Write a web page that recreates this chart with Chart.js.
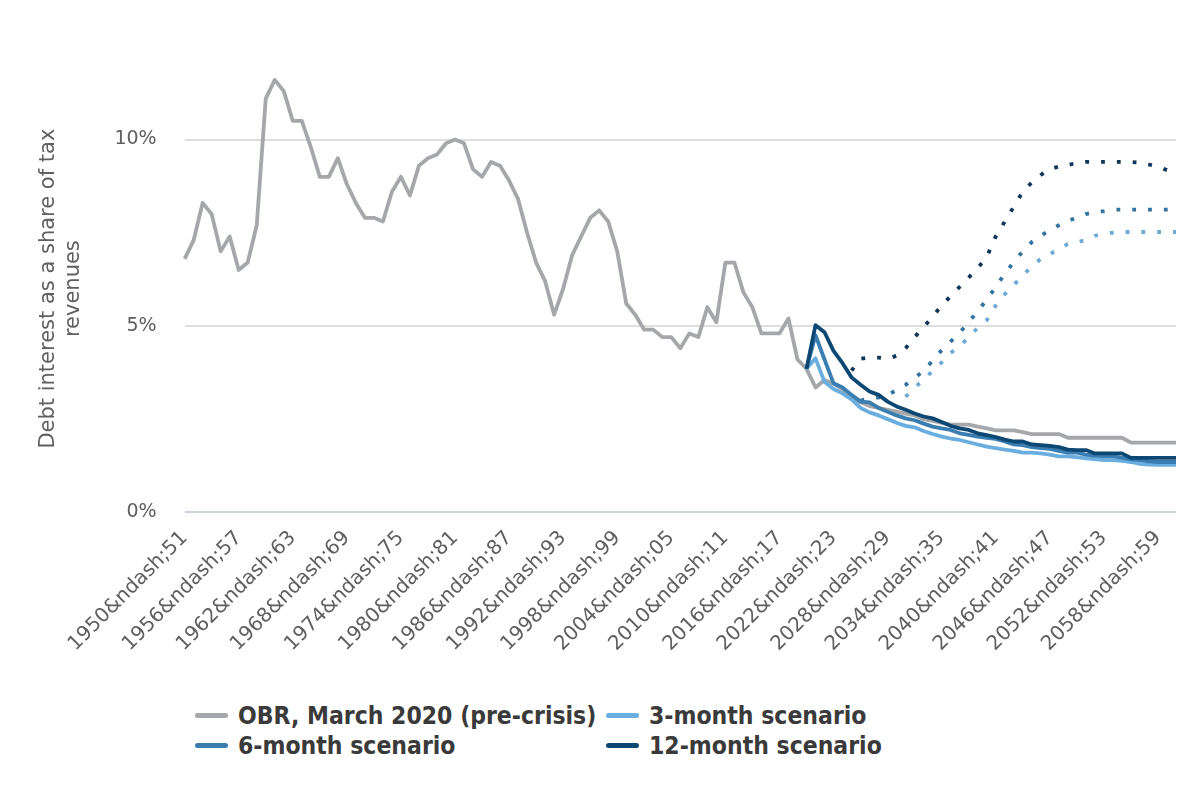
<!DOCTYPE html>
<html>
<head>
<meta charset="utf-8">
<script src="https://cdn.jsdelivr.net/npm/chart.js@4.4.1/dist/chart.umd.min.js"></script>
<style>
  body { margin: 0; background: #ffffff; }
  #wrap { position: relative; width: 1200px; height: 800px; }
  #box { position: absolute; left: 0; top: 0; width: 1200px; height: 690px; }
  #legend {
    position: absolute; left: 195px; top: 700px;
    display: grid; grid-template-columns: 411px auto; row-gap: 0;
    font-family: "DejaVu Sans Condensed", "DejaVu Sans", sans-serif;
    font-weight: bold; font-size: 24.5px; color: #3a3a3a;
  }
  #legend .item { display: flex; align-items: center; height: 30px; }
  #legend .swatch { width: 33px; height: 5px; border-radius: 3px; margin-right: 10px; }
</style>
</head>
<body>
<div id="wrap">
  <div id="box"><canvas id="myChart"></canvas></div>
  <div id="legend"></div>
</div>
<script>
// fiscal years 1950-51 .. 2060-61 (labels as they appear in the source)
const categories = [
  '1950&ndash;51','1951&ndash;52','1952&ndash;53','1953&ndash;54','1954&ndash;55','1955&ndash;56',
  '1956&ndash;57','1957&ndash;58','1958&ndash;59','1959&ndash;60','1960&ndash;61','1961&ndash;62',
  '1962&ndash;63','1963&ndash;64','1964&ndash;65','1965&ndash;66','1966&ndash;67','1967&ndash;68',
  '1968&ndash;69','1969&ndash;70','1970&ndash;71','1971&ndash;72','1972&ndash;73','1973&ndash;74',
  '1974&ndash;75','1975&ndash;76','1976&ndash;77','1977&ndash;78','1978&ndash;79','1979&ndash;80',
  '1980&ndash;81','1981&ndash;82','1982&ndash;83','1983&ndash;84','1984&ndash;85','1985&ndash;86',
  '1986&ndash;87','1987&ndash;88','1988&ndash;89','1989&ndash;90','1990&ndash;91','1991&ndash;92',
  '1992&ndash;93','1993&ndash;94','1994&ndash;95','1995&ndash;96','1996&ndash;97','1997&ndash;98',
  '1998&ndash;99','1999&ndash;00','2000&ndash;01','2001&ndash;02','2002&ndash;03','2003&ndash;04',
  '2004&ndash;05','2005&ndash;06','2006&ndash;07','2007&ndash;08','2008&ndash;09','2009&ndash;10',
  '2010&ndash;11','2011&ndash;12','2012&ndash;13','2013&ndash;14','2014&ndash;15','2015&ndash;16',
  '2016&ndash;17','2017&ndash;18','2018&ndash;19','2019&ndash;20','2020&ndash;21','2021&ndash;22',
  '2022&ndash;23','2023&ndash;24','2024&ndash;25','2025&ndash;26','2026&ndash;27','2027&ndash;28',
  '2028&ndash;29','2029&ndash;30','2030&ndash;31','2031&ndash;32','2032&ndash;33','2033&ndash;34',
  '2034&ndash;35','2035&ndash;36','2036&ndash;37','2037&ndash;38','2038&ndash;39','2039&ndash;40',
  '2040&ndash;41','2041&ndash;42','2042&ndash;43','2043&ndash;44','2044&ndash;45','2045&ndash;46',
  '2046&ndash;47','2047&ndash;48','2048&ndash;49','2049&ndash;50','2050&ndash;51','2051&ndash;52',
  '2052&ndash;53','2053&ndash;54','2054&ndash;55','2055&ndash;56','2056&ndash;57','2057&ndash;58',
  '2058&ndash;59','2059&ndash;60','2060&ndash;61'
]

// OBR, March 2020 (pre-crisis), every year from 1950-51
const obr = [
  6.8, 7.3, 8.3, 8.0, 7.0, 7.4, 6.5, 6.7, 7.7, 11.1,
  11.6, 11.3, 10.5, 10.5, 9.8, 9.0, 9.0, 9.5, 8.8, 8.3,
  7.9, 7.9, 7.8, 8.6, 9.0, 8.5, 9.3, 9.5, 9.6, 9.9,
  10.0, 9.9, 9.2, 9.0, 9.4, 9.3, 8.9, 8.4, 7.5, 6.7,
  6.2, 5.3, 6.0, 6.9, 7.4, 7.9, 8.1, 7.8, 7.0, 5.6,
  5.3, 4.9, 4.9, 4.7, 4.7, 4.4, 4.8, 4.7, 5.5, 5.1,
  6.7, 6.7, 5.9, 5.5, 4.8, 4.8, 4.8, 5.2, 4.1, 3.85,
  3.35, 3.55, 3.45, 3.3, 3.1, 2.95, 2.85, 2.8, 2.75, 2.7,
  2.65, 2.6, 2.5, 2.45, 2.4, 2.35, 2.35, 2.35, 2.3, 2.25,
  2.2, 2.2, 2.2, 2.15, 2.1, 2.1, 2.1, 2.1, 2.0, 2.0,
  2.0, 2.0, 2.0, 2.0, 2.0, 1.87, 1.87, 1.87, 1.87, 1.87, 1.87
]

// scenarios, starting 2019-20
const scenarioStart = '2019&ndash;20'
const month3 = [
  3.85, 4.13, 3.5, 3.31, 3.19, 3.03, 2.8, 2.68, 2.6, 2.5,
  2.4, 2.32, 2.28, 2.18, 2.1, 2.03, 1.98, 1.94, 1.88, 1.82,
  1.76, 1.72, 1.68, 1.65, 1.6, 1.6, 1.58, 1.55, 1.5, 1.5,
  1.48, 1.45, 1.43, 1.4, 1.4, 1.38, 1.35, 1.3, 1.28, 1.27,
  1.27, 1.27
]
const month6 = [
  3.85, 4.75, 4.1, 3.46, 3.35, 3.15, 2.97, 2.95, 2.8, 2.7,
  2.6, 2.52, 2.47, 2.38, 2.3, 2.25, 2.21, 2.12, 2.08, 2.03,
  2.0, 1.97, 1.9, 1.82, 1.8, 1.75, 1.72, 1.7, 1.65, 1.6,
  1.6, 1.55, 1.52, 1.5, 1.5, 1.47, 1.42, 1.4, 1.37, 1.35,
  1.35, 1.35
]
const month12 = [
  3.85, 5.02, 4.83, 4.33, 4.0, 3.62, 3.42, 3.24, 3.15, 2.97,
  2.84, 2.75, 2.65, 2.57, 2.52, 2.42, 2.32, 2.25, 2.21, 2.12,
  2.07, 2.02, 1.95, 1.9, 1.9, 1.82, 1.8, 1.78, 1.75, 1.68,
  1.67, 1.67, 1.58, 1.58, 1.58, 1.58, 1.46, 1.46, 1.46, 1.46,
  1.46, 1.46
]

// dotted variants (no legend entry), each with its own first year
const dot3Start = '2030&ndash;31'
const dot3 = [
  3.1, 3.35, 3.55, 3.8, 4.02, 4.28, 4.45, 4.7, 4.95, 5.15,
  5.55, 5.85, 6.1, 6.35, 6.6, 6.8, 6.93, 7.05, 7.2, 7.25,
  7.3, 7.42, 7.46, 7.5, 7.52, 7.52, 7.52, 7.52, 7.52, 7.52, 7.52
]
const dot6Start = '2025&ndash;26'
const dot6 = [
  3.0, 3.06, 3.08, 3.15, 3.28, 3.42, 3.6, 3.8, 4.07, 4.35,
  4.58, 4.82, 5.1, 5.4, 5.7, 6.05, 6.4, 6.72, 7.0, 7.25,
  7.42, 7.57, 7.7, 7.82, 7.9, 8.0, 8.05, 8.08, 8.12, 8.12,
  8.12, 8.12, 8.12, 8.12, 8.12, 8.12
]
const dot12Start = '2024&ndash;25'
const dot12 = [
  3.8, 4.12, 4.15, 4.15, 4.12, 4.2, 4.4, 4.7, 4.97, 5.25,
  5.55, 5.8, 6.05, 6.3, 6.55, 6.85, 7.4, 7.8, 8.2, 8.6,
  8.85, 9.05, 9.2, 9.28, 9.32, 9.37, 9.4, 9.4, 9.4, 9.4,
  9.4, 9.4, 9.38, 9.33, 9.27, 9.18, 9.1
]

const yTicks = [0, 5, 10]

function fromYear(start, values) {
    const s = categories.indexOf(start)
    return values.map((v, i) => ({ x: categories[s + i], y: v }))
}

const solid = { fill: false, pointRadius: 0, borderWidth: 3.8, tension: 0, borderJoinStyle: 'round' }
const dotted = { fill: false, pointRadius: 0, borderWidth: 3.8, tension: 0, borderDash: [3.8, 12], borderCapStyle: 'butt' }

const ctx = document.getElementById('myChart').getContext('2d')
const chart = new Chart(ctx, {
    type: 'line',
    data: {
        labels: categories,
        datasets: [{
            label: 'OBR, March 2020 (pre-crisis)',
            data: obr,
            borderColor: '#a6a7ab',
            inLegend: true,
            order: 3,
            ...solid
        }, {
            label: '3-month scenario',
            data: fromYear(scenarioStart, month3),
            borderColor: '#6aaee0',
            inLegend: true,
            order: 2,
            ...solid
        }, {
            label: '6-month scenario',
            data: fromYear(scenarioStart, month6),
            borderColor: '#3a7db0',
            inLegend: true,
            order: 1,
            ...solid
        }, {
            label: '12-month scenario',
            data: fromYear(scenarioStart, month12),
            borderColor: '#0d4774',
            inLegend: true,
            order: 0,
            ...solid
        }, {
            label: '3-month (dotted)',
            data: fromYear(dot3Start, dot3),
            borderColor: '#6ea9d6',
            order: 4,
            ...dotted
        }, {
            label: '6-month (dotted)',
            data: fromYear(dot6Start, dot6),
            borderColor: '#35739f',
            order: 4,
            ...dotted
        }, {
            label: '12-month (dotted)',
            data: fromYear(dot12Start, dot12),
            borderColor: '#0f3557',
            order: 4,
            ...dotted
        }]
    },
    options: {
        responsive: true,
        maintainAspectRatio: false,
        animation: false,
        layout: {
            padding: { left: 36, right: 24, top: 65, bottom: 28 }
        },
        plugins: {
            legend: { display: false },
            tooltip: { enabled: false }
        },
        scales: {
            x: {
                offset: false,
                grid: { display: false },
                border: { display: false },
                ticks: {
                    autoSkip: false,
                    maxRotation: 45,
                    minRotation: 45,
                    color: '#5f5f5f',
                    padding: 6,
                    font: { family: 'DejaVu Sans', size: 20 },
                    callback: function (value, index) {
                        return index % 6 === 0 ? categories[index] : null
                    }
                }
            },
            y: {
                min: 0,
                max: 12,
                border: { display: false },
                grid: {
                    drawTicks: false,
                    lineWidth: 2,
                    color: (c) => c.tick && c.tick.value === 0 ? '#cdd4dd' : '#dedede'
                },
                ticks: {
                    stepSize: 5,
                    includeBounds: false,
                    padding: 28,
                    color: '#5f5f5f',
                    font: { family: 'DejaVu Sans', size: 19 },
                    callback: (v) => yTicks.includes(v) ? v + '%' : null
                },
                title: {
                    display: true,
                    text: ['Debt interest as a share of tax', 'revenues'],
                    color: '#5f5f5f',
                    font: { family: 'DejaVu Sans', size: 21 },
                    padding: { top: 0, bottom: 0 }
                }
            }
        }
    }
})

// two-column legend like the source
const legendBox = document.getElementById('legend')
chart.data.datasets.filter(d => d.inLegend).forEach(d => {
    const item = document.createElement('div')
    item.className = 'item'
    const sw = document.createElement('span')
    sw.className = 'swatch'
    sw.style.background = d.borderColor
    item.appendChild(sw)
    item.appendChild(document.createTextNode(d.label))
    legendBox.appendChild(item)
})
</script>
</body>
</html>
